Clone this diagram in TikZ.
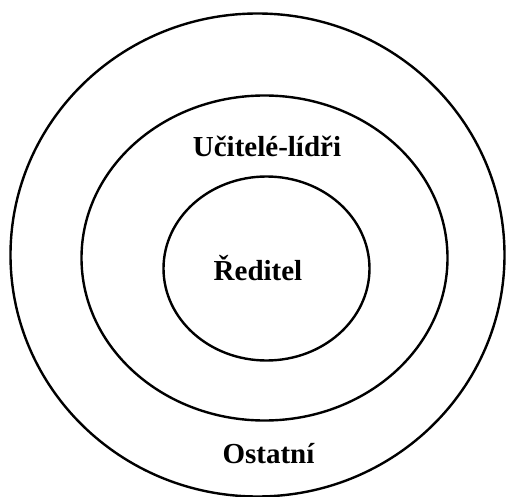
\documentclass[tikz,border=0pt]{standalone}
\usepackage{fontspec}
\setmainfont{Liberation Serif}
\usetikzlibrary{shapes.geometric}
\begin{document}
\begin{tikzpicture}[x=1pt,y=-1pt,
  ring/.style={draw=black,line width=2.4pt,ellipse,inner sep=0pt},
  lbl/.style={font=\fontsize{29}{34}\selectfont\bfseries,anchor=base,inner sep=0pt}]
\useasboundingbox (0,0) rectangle (506,497);
\node[ring,minimum width=494pt,minimum height=483pt] (outer) at (257.5,255) {};
\node[ring,minimum width=366pt,minimum height=325pt] (middle) at (264.5,258) {};
\node[ring,minimum width=206pt,minimum height=184pt] (inner) at (266.5,268.5) {};
\node[lbl] (ucitele) at (267,157) {Učitelé-lídři};
\node[lbl] (reditel) at (258,280) {Ředitel};
\node[lbl] (ostatni) at (268.5,463) {Ostatní};
\end{tikzpicture}
\end{document}
